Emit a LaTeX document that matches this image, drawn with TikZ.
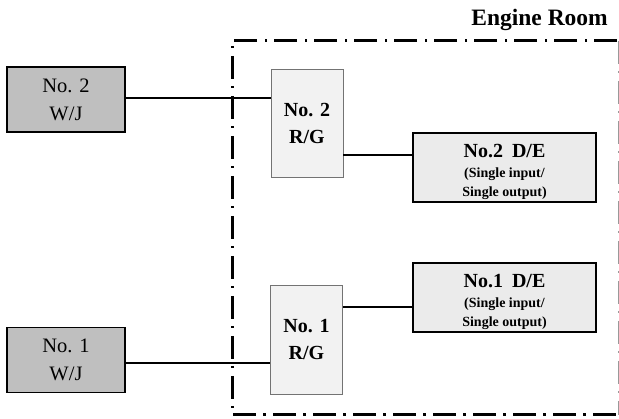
\documentclass[tikz,border=0pt]{standalone}
\usepackage{fontspec}
\setmainfont{Liberation Serif}
\usetikzlibrary{positioning}

\newcommand{\detxt}[1]{{\fontsize{14}{15}\selectfont #1}}

\begin{document}
\begin{tikzpicture}[
    x=1pt,y=-1pt,
    wj/.style={draw=black,line width=1.5pt,fill=black!25,align=center,
      minimum width=118pt,minimum height=65pt,inner sep=0pt,
      font=\fontsize{20.5}{28}\selectfont},
    rg/.style={draw=black!55,line width=0.8pt,fill=black!5,align=center,
      minimum width=72pt,minimum height=108pt,inner sep=0pt,
      font=\bfseries\fontsize{20}{27}\selectfont},
    de/.style={draw=black,line width=1.5pt,fill=black!8,
      minimum width=183pt,minimum height=69pt,inner sep=0pt},
    detext/.style={align=center,inner sep=0pt,
      font=\bfseries\fontsize{20}{21}\selectfont},
    link/.style={line width=1.8pt},
    room/.style={line width=3pt,dash pattern=on 23pt off 7pt on 2.5pt off 7.5pt}
  ]
    \useasboundingbox (0,0) rectangle (619,419);

    % 机舱边界
    \draw[room] (617,41)--(232,41)--(232,415)--(617,415);
    \draw[black!40,line width=0.9pt,dash pattern=on 23pt off 7pt on 2.5pt off 7.5pt]
      (618,41)--(618,415);
    \node[font=\bfseries\fontsize{23.5}{26}\selectfont,anchor=east,inner sep=0pt]
      (roomlabel) at (608,20) {Engine Room};

    % 喷水推进器
    \node[wj] (wj2) at (66,99.5) {No. 2\\W/J};
    \node[wj] (wj1) at (66,360) {No. 1\\W/J};

    % 齿轮箱
    \node[rg] (rg2) at (307,123) {No. 2\\R/G};
    \node[rg,minimum height=109pt] (rg1) at (306.5,339.5) {No. 1\\R/G};

    % 柴油机
    \node[de] (de2) at (504.5,167.5) {};
    \node[detext] (de2txt) at ([yshift=-4.5pt]de2.center)
      {No.2\hspace{9pt}D/E\\[-1pt]\detxt{(Single input/}\\[-2pt]\detxt{Single output)}};
    \node[de] (de1) at (504.5,297.5) {};
    \node[detext] (de1txt) at ([yshift=-4.5pt]de1.center)
      {No.1\hspace{9pt}D/E\\[-1pt]\detxt{(Single input/}\\[-2pt]\detxt{Single output)}};

    % 连接轴
    \draw[link] ([yshift=1.5pt]wj2.east)--([yshift=1.5pt]wj2.east -| rg2.west);
    \draw[link] ([yshift=-3pt]wj1.east)--([yshift=-3pt]wj1.east -| rg1.west);
    \draw[link] ([yshift=12.5pt]de2.west -| rg2.east)--([yshift=12.5pt]de2.west);
    \draw[link] ([yshift=-9.5pt]de1.west -| rg1.east)--([yshift=-9.5pt]de1.west);
  \end{tikzpicture}
\end{document}
